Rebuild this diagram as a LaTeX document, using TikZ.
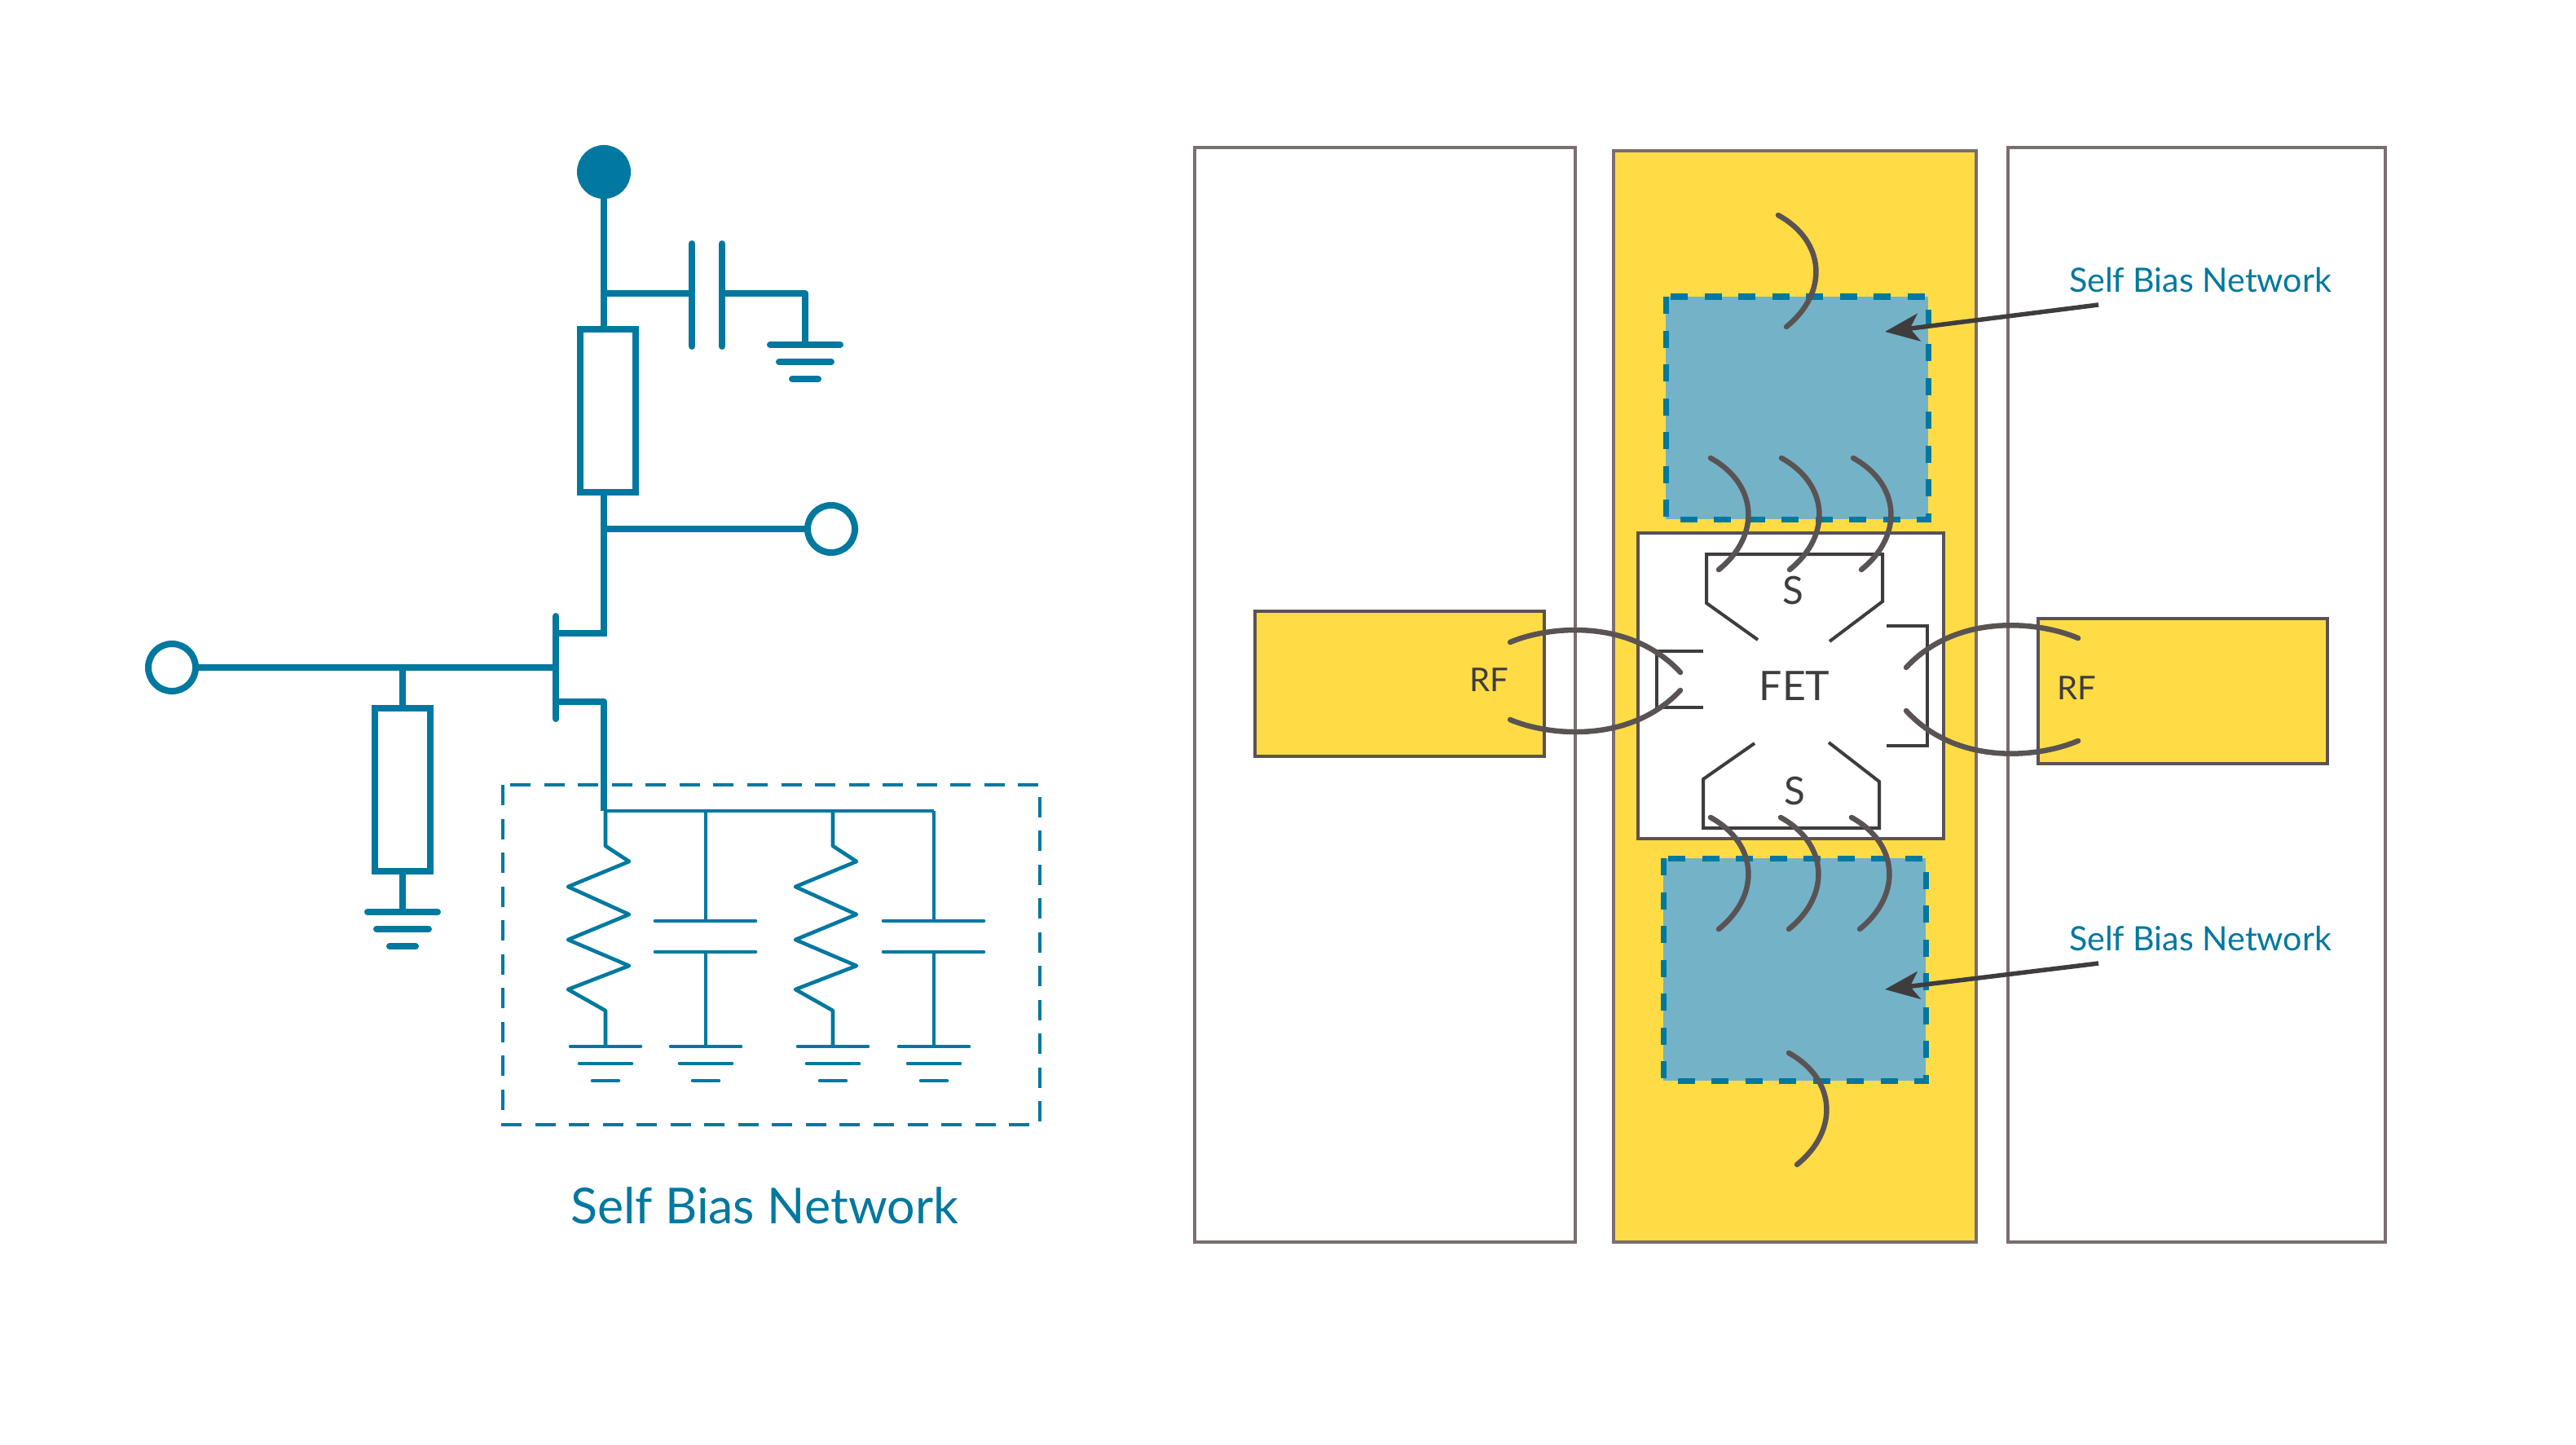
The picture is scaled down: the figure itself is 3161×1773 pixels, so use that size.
\documentclass[tikz,border=0pt]{standalone}
\usepackage{fontspec}
\setmainfont{Lato}
\usetikzlibrary{arrows.meta}
\definecolor{schemblue}{HTML}{00789F}
\definecolor{netblue}{HTML}{74B2C8}
\definecolor{padyellow}{HTML}{FFDC45}
\definecolor{pillargray}{HTML}{7A6E6E}
\definecolor{metalgray}{HTML}{3F3C3E}
\definecolor{wiregray}{HTML}{5A5353}

\tikzset{
  thickline/.style = {color=schemblue, line width=.08cm},
  thinline/.style = {color=schemblue, line width=.046cm},
  pillar/.style = {draw=pillargray, line width=.04cm},
  padbox/.style = {draw=wiregray, fill=padyellow, line width=.045cm},
  netbox/.style = {draw=schemblue, line width=.07cm, dash pattern=on .21cm off .205cm},
  metal/.style = {draw=metalgray, line width=.04cm},
  bond/.style = {draw=wiregray, line width=.065cm, line cap=round},
  term/.style = {circle, draw=schemblue, fill=white, line width=.08cm, minimum size=.58cm, inner sep=0},
  resbox/.style = {rectangle, draw=schemblue, fill=white, line width=.08cm, minimum width=.68cm, minimum height=2cm, inner sep=0},
  gnd/.pic = {
    \foreach \w/\d in {43/0,32/21,16/42} {
      \draw[line cap=round] (-\w,\d) -- (\w,\d);
    };
  },
  shuntres/.pic = {
    \draw[line join=round] (0,0) -- (0,43) -- (29,62) -- (-46,93) -- (29,127)
        -- (-46,158) -- (29,190) -- (-46,219) -- (0,245) -- (0,289);
    \pic at (0,289) {gnd};
  },
  shuntcap/.pic = {
    \draw (0,0) -- (0,135);
    \draw[line cap=round] (-62,135) -- (61,135);
    \draw[line cap=round] (-62,173) -- (61,173);
    \draw (0,173) -- (0,289);
    \pic at (0,289) {gnd};
  },
  bondwire/.pic = {
    \draw[bond] (0,0) .. controls (58,32) and (62,95) .. (10,137);
  }
}

\begin{document}
\begin{tikzpicture}[x=.01cm,y=-.01cm]
  \useasboundingbox (0,0) rectangle (3161,1773);
  \fill[white] (0,0) rectangle (3161,1773);

  % schematic
  \node[term, fill=schemblue] (vdd) at (741,211) {};
  \node[term] (vout) at (1020,649) {};
  \node[term] (vin) at (211,819) {};
  \node[resbox] (rtop) at (746,504) {};
  \node[resbox] (rgate) at (494,969) {};
  \coordinate (jcap) at (741,360);
  \coordinate (jout) at (741,649);
  \coordinate (jgate) at (494,819);
  \coordinate (fetg) at (682,819);
  \coordinate (gndcap) at (988,423);
  \coordinate (gndgate) at (494,1119);
  \coordinate (bus) at (741,995);

  \begin{scope}[thickline]
  \draw (vdd) -- (vdd |- rtop.north);
  \draw (jcap) -- (849,360);
  \draw[line cap=round] (849,299) -- (849,425);
  \draw[line cap=round] (886,299) -- (886,425);
  \draw[line join=round] (886,360) -- (988,360) -- (gndcap);
  \pic at (gndcap) {gnd};
  \draw (vdd |- rtop.south) -- (jout) -- (741,777) -- (682,777);
  \draw (jout) -- (vout);
  \draw (vin) -- (fetg);
  \draw[line cap=round] (682,756) -- (682,882);
  \draw[line join=round] (682,861) -- (741,861) -- (bus);
  \draw (jgate) -- (rgate.north);
  \draw (rgate.south) -- (gndgate);
  \pic at (gndgate) {gnd};
  \end{scope}

  \draw[thinline, dash pattern=on .25cm off .165cm] (617,963) rectangle (1276,1380);
  \begin{scope}[thinline]
  \draw (bus) -- (1146,995);
  \pic at (743,995) {shuntres};
  \pic at (866,995) {shuntcap};
  \pic at (1022,995) {shuntres};
  \pic at (1146,995) {shuntcap};
  \end{scope}
  \node[schemblue, font=\fontsize{17.3}{20}\selectfont, anchor=base] (netname) at (938,1501) {Self Bias Network};

  % die
  \draw[pillar] (1466,181) rectangle (1933,1524);
  \draw[pillar, fill=padyellow] (1980,185) rectangle (2425,1524);
  \draw[pillar] (2464,181) rectangle (2927,1524);
  \draw[padbox] (1540,750) rectangle (1895,928);
  \draw[padbox] (2501,759) rectangle (2856,937);
  \fill[netblue] (2044,364) rectangle (2366,637);
  \draw[netbox] (2044,364) rectangle (2366,637);
  \fill[netblue] (2041,1053) rectangle (2363,1326);
  \draw[netbox] (2041,1053) rectangle (2363,1326);
  \draw[draw=wiregray, fill=white, line width=.045cm] (2010,654) rectangle (2385,1029);

  \draw[metal] (2157,785) -- (2094,740) -- (2094,680) -- (2310,680) -- (2310,738) -- (2245,787);
  \draw[metal] (2153,912) -- (2090,956) -- (2090,1016) -- (2306,1016) -- (2306,959) -- (2244,911);
  \draw[metal] (2090,799) -- (2033,799) -- (2033,868) -- (2090,868);
  \draw[metal] (2315,768) -- (2365,768) -- (2365,915) -- (2315,915);

  \foreach \x/\y in {2182/264,2099/562,2186/562,2274/562,
                     2099/1003,2185/1003,2272/1003,2195/1292} {
    \pic at (\x,\y) {bondwire};
  };
  \draw[bond] (1853,788) .. controls (1900,768) and (2000,758) .. (2062,825);
  \draw[bond] (1853,883) .. controls (1900,903) and (2000,913) .. (2062,847);
  \draw[bond] (2339,819) .. controls (2401,752) and (2501,762) .. (2550,783);
  \draw[bond] (2339,872) .. controls (2401,940) and (2501,930) .. (2550,909);

  \node[metalgray, font=\fontsize{14.2}{16}\selectfont, anchor=base] (fetname) at (2202,859) {FET};
  \node[metalgray, font=\fontsize{13.5}{15}\selectfont, anchor=base] (stop) at (2200,741) {S};
  \node[metalgray, font=\fontsize{13.5}{15}\selectfont, anchor=base] (sbot) at (2202,987) {S};
  \node[metalgray, font=\fontsize{11.4}{13}\selectfont, anchor=base] (rfleft) at (1827,848) {RF};
  \node[metalgray, font=\fontsize{11.4}{13}\selectfont, anchor=base] (rfright) at (2548,858) {RF};

  \node[schemblue, font=\fontsize{11.7}{13}\selectfont, anchor=base] (labtop) at (2700,359) {Self Bias Network};
  \node[schemblue, font=\fontsize{11.7}{13}\selectfont, anchor=base] (labbot) at (2700,1166) {Self Bias Network};
  \coordinate (tiptop) at (2313,407);
  \coordinate (tipbot) at (2313,1214);
  \draw[-{Stealth[length=.42cm,width=.34cm,inset=.11cm]}, color=metalgray, line width=.055cm] (2575,374) -- (tiptop);
  \draw[-{Stealth[length=.42cm,width=.34cm,inset=.11cm]}, color=metalgray, line width=.055cm] (2575,1182) -- (tipbot);
\end{tikzpicture}
\end{document}
